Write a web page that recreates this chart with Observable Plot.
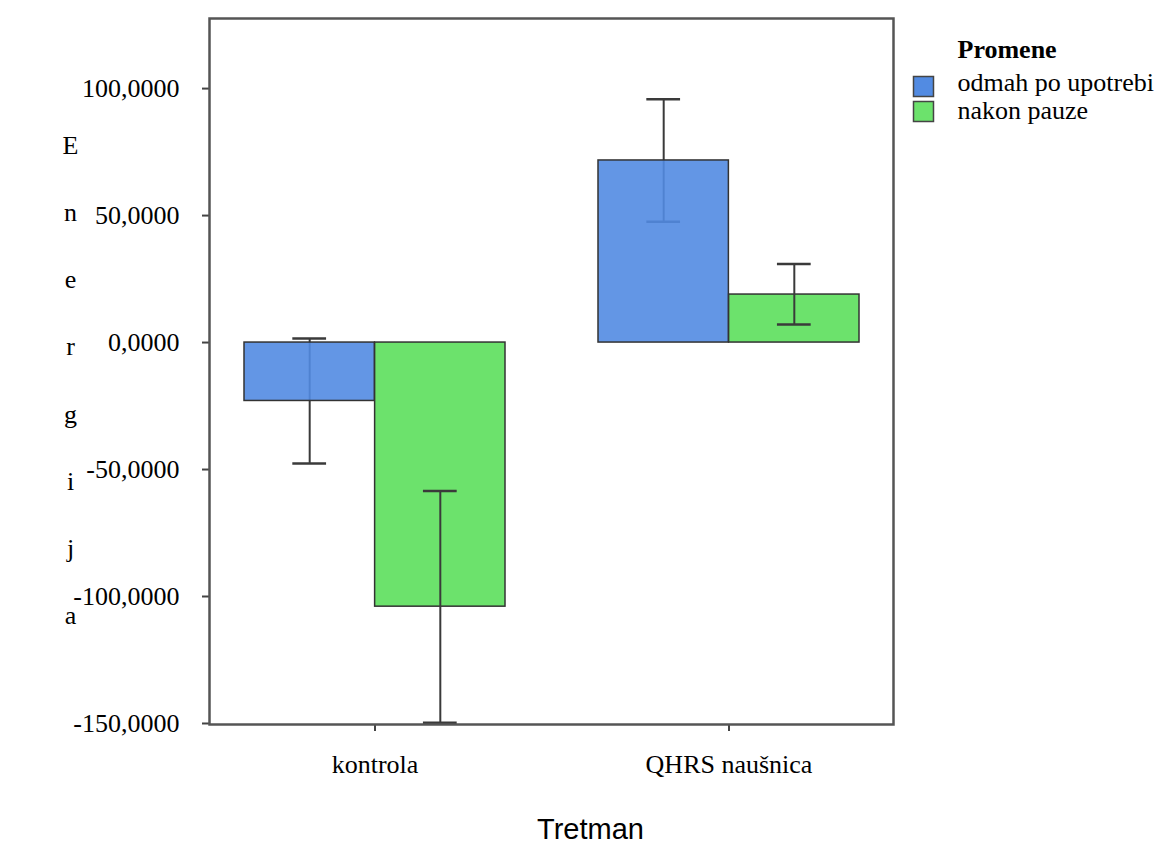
<!DOCTYPE html>
<html>
<head>
<meta charset="utf-8">
<script src="https://cdn.jsdelivr.net/npm/d3@7"></script>
<script src="https://cdn.jsdelivr.net/npm/@observablehq/plot@0.6"></script>
<style>
  html, body { margin: 0; padding: 0; background: #fff; }
  #chart { position: absolute; left: 0; top: 0; }
</style>
</head>
<body>
<div id="chart"></div>
<script>
// ---- data ----
const categories = ["kontrola", "QHRS naušnica"];
const series = ["odmah po upotrebi", "nakon pauze"];
const meanOdmah = [-23.0, 71.7];
const loOdmah   = [-47.6, 47.6];
const hiOdmah   = [1.6, 95.8];
const meanNakon = [-104.0, 18.9];
const loNakon   = [-149.7, 7.1];
const hiNakon   = [-58.5, 30.9];
const yTicks = [100, 50, 0, -50, -100, -150];
const colors = ["#528be2", "#6ce26c"];
const legendTitle = "Promene";
const yLabel = "Energija";
const xLabel = "Tretman";

// ---- rows built from arrays ----
const rowsOdmah = categories.map((c, i) => ({cat: c, series: series[0], mean: meanOdmah[i], lo: loOdmah[i], hi: hiOdmah[i]}));
const rowsNakon = categories.map((c, i) => ({cat: c, series: series[1], mean: meanNakon[i], lo: loNakon[i], hi: hiNakon[i]}));

// ---- layout ----
const W = 1161, H = 852, mL = 209, mR = 268, mT = 18, mB = 128;
const pIn = 0.264, pOut = 0.0955;
const step = (W - mL - mR) / (categories.length - pIn + 2 * pOut);
const bw = step * (1 - pIn);
const capW = 34;
const capInset = (bw - capW) / 2;
const errStroke = "#3a3a3a";
const serif = "Liberation Serif";

function errMarks(rows, dx) {
  return [
    Plot.ruleX(rows, {x: "cat", y1: "lo", y2: "hi", dx, stroke: errStroke, strokeWidth: 2}),
    Plot.tickY(rows, {x: "cat", y: "lo", dx, insetLeft: capInset, insetRight: capInset, stroke: errStroke, strokeWidth: 2.5}),
    Plot.tickY(rows, {x: "cat", y: "hi", dx, insetLeft: capInset, insetRight: capInset, stroke: errStroke, strokeWidth: 2.5})
  ];
}

const chart = Plot.plot({
  width: W, height: H,
  marginLeft: mL, marginRight: mR, marginTop: mT, marginBottom: mB,
  style: {fontFamily: serif, fontSize: "26px", color: "#000", background: "#fff"},
  x: {domain: categories, paddingInner: pIn, paddingOuter: pOut, align: 0.5, axis: null},
  y: {domain: [-150.4, 127.6], axis: null},
  marks: [
    ...errMarks(rowsOdmah, -bw / 4),
    Plot.barY(rowsOdmah, {x: "cat", y: "mean", insetRight: bw / 2, fill: colors[0], fillOpacity: 0.9, stroke: "#333", strokeWidth: 1.5}),
    Plot.barY(rowsNakon, {x: "cat", y: "mean", insetLeft: bw / 2, fill: colors[1], stroke: "#333", strokeWidth: 1.5}),
    ...errMarks(rowsNakon, bw / 4),
    Plot.axisY(yTicks, {tickSize: 7, tickPadding: 23, tickFormat: d => d.toFixed(4).replace(".", ","), stroke: "#444", strokeWidth: 2, fill: "#000", fontFamily: serif, label: null}),
    Plot.axisX({tickSize: 7, tickPadding: 23, stroke: "#444", strokeWidth: 2, fill: "#000", fontFamily: serif, label: null}),
    Plot.frame({stroke: "#555", strokeWidth: 2.5}),
    Plot.text([yLabel], {text: d => d.split("").join("\n"), frameAnchor: "left", dx: -139, dy: -4, lineHeight: 2.58, textAnchor: "middle", fontFamily: serif, fontSize: 26, fill: "#000"}),
    Plot.text([xLabel], {frameAnchor: "bottom", dx: 39, dy: 114, fontFamily: "Liberation Sans", fontSize: 29, fill: "#000"}),
    Plot.text([legendTitle], {frameAnchor: "top-right", textAnchor: "start", lineAnchor: "bottom", dx: 64, dy: 39, fontWeight: "bold", fontFamily: serif, fontSize: 26, fill: "#000"}),
    ...series.map((s, i) => Plot.text([s], {frameAnchor: "top-right", textAnchor: "start", lineAnchor: "bottom", dx: 64, dy: 72 + i * 28, fontFamily: serif, fontSize: 26, fill: "#000"})),
    ...series.map((s, i) => Plot.dot([s], {frameAnchor: "top-right", dx: 30, dy: 68 + i * 25, symbol: "square", r: 11.28, fill: colors[i], stroke: "#444", strokeWidth: 1.5}))
  ]
});
document.getElementById("chart").appendChild(chart);
</script>
</body>
</html>
